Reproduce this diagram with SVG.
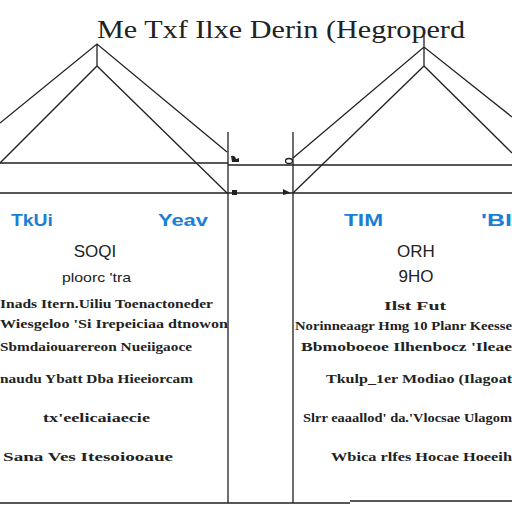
<svg xmlns="http://www.w3.org/2000/svg" width="512" height="512" viewBox="0 0 512 512">
<style>
.ln{stroke:#222;stroke-width:1.3;fill:none}
.t{font-family:"Liberation Serif",serif;fill:#222}
.b{font-family:"Liberation Serif",serif;fill:#222;font-size:13px;font-weight:bold}
.blue{font-family:"Liberation Sans",sans-serif;fill:#1a7fd4;font-size:16px;font-weight:bold}
.m{font-family:"Liberation Sans",sans-serif;fill:#222}
</style>
<rect width="512" height="512" fill="#fff"/>
<g id="title"><text class="t" x="281" y="38" font-size="26" text-anchor="middle" textLength="368" lengthAdjust="spacingAndGlyphs">Me Txf Ilxe Derin (Hegroperd</text></g>
<g id="connectors">
<path class="ln" d="M97 44 V66 M0 123 L97 44 L227 152 M0 163 L97 66 L227 193"/>
<path class="ln" d="M424 36 V66 M293 158 L424 47 L512 117 M293 193 L424 66 L512 153"/>
<path class="ln" d="M0 163 H228 M228 165 H512 M0 193 H512"/>
<path class="ln" d="M228 132 V503 M293 132 V503"/>
<path class="ln" d="M0 503 H350 M350 501 H512"/>
<path d="M231 156 q4 -1 5 3 l3 -1 v4 h-7 z" fill="#222"/>
<ellipse cx="289" cy="161" rx="3.5" ry="2.5" class="ln"/>
<rect x="232" y="190" width="5" height="5" fill="#222"/>
<path d="M283 189 l8 4 l-8 2 z" fill="#222"/>
</g>
<g id="left-panel">
<text class="blue" x="11" y="226" textLength="42" lengthAdjust="spacingAndGlyphs">TkUi</text>
<text class="blue" x="158" y="226" textLength="50" lengthAdjust="spacingAndGlyphs">Yeav</text>
<text class="m" x="95" y="257" font-size="17" text-anchor="middle">SOQI</text>
<text class="m" x="62" y="282" font-size="13" textLength="69" lengthAdjust="spacingAndGlyphs">ploorc 'tra</text>
<text class="b" x="0" y="308" textLength="213" lengthAdjust="spacingAndGlyphs">Inads Itern.Uiliu Toenactoneder</text>
<text class="b" x="0" y="328" textLength="228" lengthAdjust="spacingAndGlyphs">Wiesgeloo 'Si Irepeiciaa dtnowon</text>
<text class="b" x="0" y="351" textLength="192" lengthAdjust="spacingAndGlyphs">Sbmdaiouarereon Nueiigaoce</text>
<text class="b" x="0" y="383" textLength="193" lengthAdjust="spacingAndGlyphs">naudu Ybatt Dba Hieeiorcam</text>
<text class="b" x="43" y="422" textLength="107" lengthAdjust="spacingAndGlyphs">tx'eelicaiaecie</text>
<text class="b" x="3" y="461" textLength="170" lengthAdjust="spacingAndGlyphs">Sana Ves Itesoiooaue</text>
</g>
<g id="right-panel">
<text class="blue" x="344" y="226" textLength="39" lengthAdjust="spacingAndGlyphs">TIM</text>
<text class="blue" x="481" y="226" textLength="31" lengthAdjust="spacingAndGlyphs">'BI</text>
<text class="m" x="416" y="257" font-size="17" text-anchor="middle">ORH</text>
<text class="m" x="416" y="282" font-size="17" text-anchor="middle">9HO</text>
<text class="b" x="384" y="310" font-size="15" textLength="62" lengthAdjust="spacingAndGlyphs">Ilst Fut</text>
<text class="b" x="295" y="330" textLength="217" lengthAdjust="spacingAndGlyphs">Norinneaagr Hmg 10 Planr Keesse</text>
<text class="b" x="301" y="351" textLength="211" lengthAdjust="spacingAndGlyphs">Bbmoboeoe Ilhenbocz 'Ileae</text>
<text class="b" x="326" y="383" textLength="186" lengthAdjust="spacingAndGlyphs">Tkulp_1er Modiao (Ilagoat</text>
<text class="b" x="303" y="422" textLength="209" lengthAdjust="spacingAndGlyphs">Slrr eaaallod' da.'Vlocsae Ulagom</text>
<text class="b" x="331" y="461" textLength="181" lengthAdjust="spacingAndGlyphs">Wbica rlfes Hocae Hoeeih</text>
</g>
</svg>
